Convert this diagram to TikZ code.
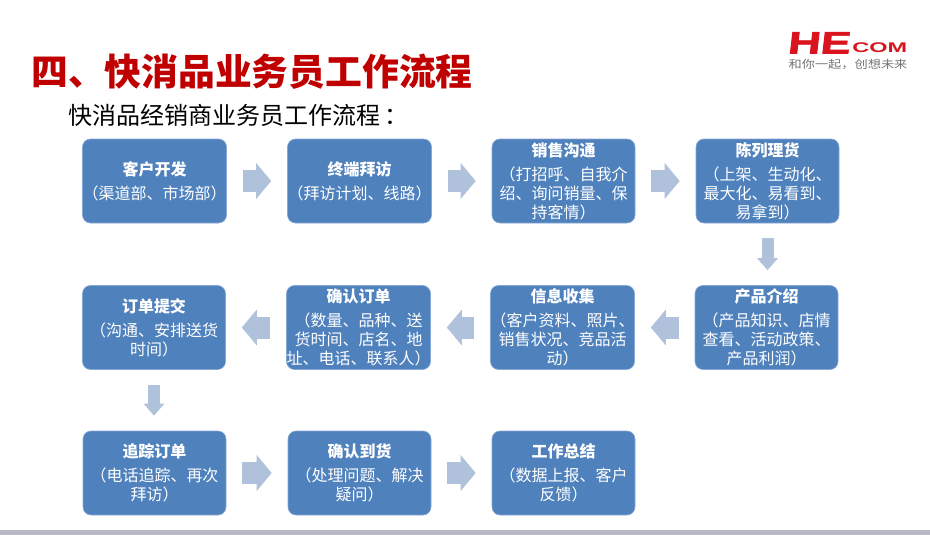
\documentclass[tikz,border=0pt]{standalone}
\usepackage{fontspec}
\setmainfont{Noto Sans CJK SC}
\newfontfamily\logofont{Liberation Sans}
\newfontfamily\logoheavy[FakeBold=2]{Liberation Sans Bold}
\usetikzlibrary{arrows.meta,calc}
\definecolor{boxblue}{HTML}{4F81BD}
\definecolor{boxedge}{HTML}{86A8D4}
\definecolor{arrowblue}{HTML}{B0C1DC}
\definecolor{titlered}{HTML}{C00000}
\definecolor{logored}{HTML}{D9141E}
\definecolor{barc}{HTML}{BABAC6}
\newcommand{\hd}[1]{{\bfseries #1}\\[5pt]}
\tikzset{
 x=1pt,y=-1pt,
 flowbox/.style={draw=boxedge,line width=.6pt,fill=boxblue,rounded corners=8pt,minimum width=143pt,minimum height=84pt,inner sep=0pt,align=center,text=white,font=\fontsize{16}{19}\selectfont},
 hflow/.style={arrowblue,line width=22pt,shorten <=16pt,shorten >=16pt,-{Triangle[length=15pt,width=35pt]}},
 vflow/.style={arrowblue,line width=12pt,shorten <=15pt,shorten >=15pt,-{Triangle[length=12pt,width=20pt]}},
 logotext/.style={anchor=base west,inner sep=0pt,text=logored},
}
\begin{document}
\begin{tikzpicture}
\useasboundingbox (0,0) rectangle (930,535);
\fill[barc] (0,530) rectangle (930,535);
\node[anchor=west,text=titlered,font=\fontsize{36.8}{40}\selectfont\bfseries,inner sep=0pt] (title) at (31,72) {四、快消品业务员工作流程};
\node[anchor=west,text=black,font=\fontsize{24}{28}\selectfont,inner sep=0pt] (subtitle) at (68,115) {快消品经销商业务员工作流程\hspace{4pt}：};
% logo
\node[logotext,xscale=1.45,xslant=.08,font=\logoheavy\fontsize{31}{31}\selectfont] (logohe) at (787,53.5) {HE};
\node[logotext,xscale=1.68,font=\logofont\fontsize{14}{14}\selectfont\bfseries] (logocom) at (852,53) {COM};
\node[anchor=center,inner sep=0pt,text=black!55,xscale=1.2,font=\fontsize{11}{11}\selectfont] (logotag) at (848,64.5) {和你一起，创想未来};
% row 1
\node[flowbox] (a1) at (154.5,181) {\hd{客户开发}（渠道部、市场部）};
\node[flowbox] (a2) at (359.5,181) {\hd{终端拜访}（拜访计划、线路）};
\node[flowbox] (a3) at (563.5,181) {\hd{销售沟通}（打招呼、自我介\\绍、询问销量、保\\持客情）};
\node[flowbox] (a4) at (767.5,181) {\hd{陈列理货}（上架、生动化、\\最大化、易看到、\\易拿到）};
% row 2
\node[flowbox] (b4) at (766.5,327.5) {\hd{产品介绍}（产品知识、店情\\查看、活动政策、\\产品利润）};
\node[flowbox] (b3) at (562.5,327.5) {\hd{信息收集}（客户资料、照片、\\销售状况、竞品活\\动）};
\node[flowbox] (b2) at (358.5,327.5) {\hd{确认订单}（数量、品种、送\\货时间、店名、地\\址、电话、联系人）};
\node[flowbox] (b1) at (154,327.5) {\hd{订单提交}（沟通、安排送货\\时间）};
% row 3
\node[flowbox] (c1) at (154.5,473) {\hd{追踪订单}（电话追踪、再次\\拜访）};
\node[flowbox] (c2) at (359.5,473) {\hd{确认到货}（处理问题、解决\\疑问）};
\node[flowbox] (c3) at (563.5,473) {\hd{工作总结}（数据上报、客户\\反馈）};
% connectors
\draw[hflow] (a1) -- (a2);
\draw[hflow] (a2) -- (a3);
\draw[hflow] (a3) -- (a4);
\draw[vflow] (a4.south) -- (a4.south |- b4.north);
\draw[hflow] (b4) -- (b3);
\draw[hflow] (b3) -- (b2);
\draw[hflow] (b2) -- (b1);
\draw[vflow] (b1.south) -- (b1.south |- c1.north);
\draw[hflow] (c1) -- (c2);
\draw[hflow] (c2) -- (c3);
\end{tikzpicture}
\end{document}
